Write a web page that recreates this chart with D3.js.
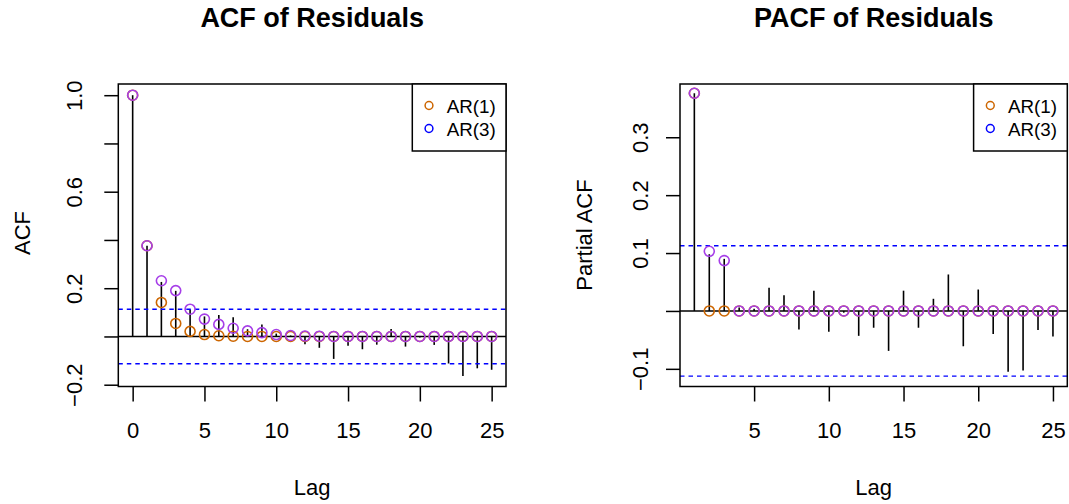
<!DOCTYPE html>
<html><head><meta charset="utf-8">
<script src="https://cdn.jsdelivr.net/npm/d3@7"></script>
<style>body{margin:0;background:#fff}svg{display:block;font-family:"Liberation Sans",Arial,Helvetica,sans-serif}</style>
</head><body><svg id="c" width="1069" height="504"></svg>
<script>
// ---- data ----
const acfLags   = [0,1,2,3,4,5,6,7,8,9,10,11,12,13,14,15,16,17,18,19,20,21,22,23,24,25];
const acfValues = [1.000,0.376,0.226,0.189,0.112,0.083,0.089,0.080,0.030,0.050,0.012,0.004,-0.032,-0.047,-0.093,-0.038,-0.053,-0.034,0.031,-0.042,-0.004,-0.035,-0.112,-0.164,-0.132,-0.138];
const ar1Acf    = [1.000,0.376,0.141,0.054,0.021,0.008,0.003,0.001,0,0,0,0,0,0,0,0,0,0,0,0,0,0,0,0,0,0];
const ar3Acf    = [1.000,0.376,0.231,0.190,0.113,0.072,0.050,0.034,0.023,0.016,0.008,0.004,0.002,0.001,0,0,0,0,0,0,0,0,0,0,0,0];
const acfCI     = 0.113;

const pacfLags   = [1,2,3,4,5,6,7,8,9,10,11,12,13,14,15,16,17,18,19,20,21,22,23,24,25];
const pacfValues = [0.376,0.098,0.090,0.006,0.004,0.040,0.027,-0.032,0.035,-0.036,-0.003,-0.043,-0.029,-0.069,0.035,-0.029,0.021,0.063,-0.061,0.037,-0.040,-0.105,-0.103,-0.033,-0.044];
const ar1Pacf    = [0.376,0,0,0,0,0,0,0,0,0,0,0,0,0,0,0,0,0,0,0,0,0,0,0,0];
const ar3Pacf    = [0.376,0.103,0.087,0,0,0,0,0,0,0,0,0,0,0,0,0,0,0,0,0,0,0,0,0,0];
const pacfCI     = 0.1125;

const acfXTicks  = [0,5,10,15,20,25];
const acfYTicks  = [-0.2,0,0.2,0.4,0.6,0.8,1.0];
const acfYLabels = {"-0.2":"\u22120.2","0.2":"0.2","0.6":"0.6","1":"1.0"};
const pacfXTicks = [5,10,15,20,25];
const pacfYTicks = [-0.1,0,0.1,0.2,0.3];
const pacfYLabels= {"-0.1":"\u22120.1","0.1":"0.1","0.2":"0.2","0.3":"0.3"};
const legendLabels = ["AR(1)","AR(3)"];

const ORANGE = "#cd6600", PURPLE = "#a63ee8", BLUE = "#0000ff";

const svg = d3.select("#c");

function panel(o){
  const x = d3.scaleLinear().domain(o.xDomain).range([o.left, o.right]);
  const y = d3.scaleLinear().domain(o.yDomain).range([o.bottom, o.top]);
  const g = svg.append("g");

  // title
  g.append("text").attr("x",(o.left+o.right)/2).attr("y",27.3)
    .attr("text-anchor","middle").attr("font-weight","bold").attr("font-size",27).text(o.title);

  // spikes
  g.selectAll("line.spike").data(o.lags.map((l,i)=>({l,v:o.values[i]}))).join("line")
    .attr("x1",d=>x(d.l)).attr("x2",d=>x(d.l)).attr("y1",y(0)).attr("y2",d=>y(d.v))
    .attr("stroke","#000").attr("stroke-width",1.6);

  // zero line
  g.append("line").attr("x1",o.left).attr("x2",o.right).attr("y1",y(0)).attr("y2",y(0))
    .attr("stroke","#000").attr("stroke-width",1.6);

  // CI lines
  [o.ci,-o.ci].forEach(c=>{
    g.append("line").attr("x1",o.left).attr("x2",o.right).attr("y1",y(c)).attr("y2",y(c))
      .attr("stroke",BLUE).attr("stroke-width",1.4).attr("stroke-dasharray","4.5,4");
  });

  // circles
  g.selectAll("circle.a1").data(o.lags.map((l,i)=>({l,v:o.ar1[i]}))).join("circle")
    .attr("cx",d=>x(d.l)).attr("cy",d=>y(d.v)).attr("r",5)
    .attr("fill","none").attr("stroke",ORANGE).attr("stroke-width",1.6);
  g.selectAll("circle.a3").data(o.lags.map((l,i)=>({l,v:o.ar3[i]}))).join("circle")
    .attr("cx",d=>x(d.l)).attr("cy",d=>y(d.v)).attr("r",5)
    .attr("fill","none").attr("stroke",PURPLE).attr("stroke-width",1.6);

  // box
  g.append("rect").attr("x",o.left).attr("y",o.top).attr("width",o.right-o.left).attr("height",o.bottom-o.top)
    .attr("fill","none").attr("stroke","#000").attr("stroke-width",1.5);

  // x axis
  const xa = g.append("g").attr("transform",`translate(0,${o.bottom})`)
    .call(d3.axisBottom(x).tickValues(o.xTicks).tickSize(15).tickFormat(d3.format("d")));
  xa.select(".domain").remove();
  xa.selectAll(".tick line").attr("stroke","#000").attr("stroke-width",1.5);
  xa.selectAll(".tick text").attr("y",51.8).attr("dy",0).attr("font-size",22)
    .attr("fill","#000").attr("font-family",null);

  // y axis
  const ya = g.append("g").attr("transform",`translate(${o.left},0)`)
    .call(d3.axisLeft(y).tickValues(o.yTicks).tickSize(14)
      .tickFormat(d=>{const k=String(+d.toFixed(2)); return o.yLabels[k]||"";}));
  ya.select(".domain").remove();
  ya.selectAll(".tick line").attr("stroke","#000").attr("stroke-width",1.5);
  ya.selectAll(".tick text").attr("x",0).attr("y",0).attr("dy",0)
    .attr("text-anchor","middle").attr("font-size",22).attr("fill","#000").attr("font-family",null)
    .attr("transform",`translate(${o.yLabelX-o.left},0) rotate(-90)`);

  // axis titles
  g.append("text").attr("x",(o.left+o.right)/2).attr("y",495).attr("text-anchor","middle")
    .attr("font-size",22).text("Lag");
  g.append("text").attr("transform",`translate(${o.ylabX},${o.ylabY}) rotate(-90)`)
    .attr("text-anchor","middle").attr("font-size",22).text(o.ylab);

  // legend
  const lw = 93.7, lh = 67;
  const lx = o.right - lw;
  g.append("rect").attr("x",lx).attr("y",o.top).attr("width",lw).attr("height",lh)
    .attr("fill","#fff").attr("stroke","#000").attr("stroke-width",1.5);
  const cols = [ORANGE, BLUE];
  legendLabels.forEach((t,i)=>{
    const cy = o.top + 21.5 + i*23;
    g.append("circle").attr("cx",lx+16.7).attr("cy",cy).attr("r",3.9)
      .attr("fill","none").attr("stroke",cols[i]).attr("stroke-width",1.5);
    g.append("text").attr("x",lx+34.4).attr("y",cy+7).attr("font-size",18.8).text(t);
  });
}

panel({
  left:118.3, right:506, top:84, bottom:386.5,
  xDomain:[-1,26], yDomain:[-0.2074,1.0464],
  lags:acfLags, values:acfValues, ar1:ar1Acf, ar3:ar3Acf, ci:acfCI,
  xTicks:acfXTicks, yTicks:acfYTicks, yLabels:acfYLabels, yLabelX:81.7,
  title:"ACF of Residuals", ylab:"ACF", ylabX:30, ylabY:233
});
panel({
  left:680, right:1067.3, top:84, bottom:386.5,
  xDomain:[0.04,25.96], yDomain:[-0.1305,0.392],
  lags:pacfLags, values:pacfValues, ar1:ar1Pacf, ar3:ar3Pacf, ci:pacfCI,
  xTicks:pacfXTicks, yTicks:pacfYTicks, yLabels:pacfYLabels, yLabelX:647.5,
  title:"PACF of Residuals", ylab:"Partial ACF", ylabX:591.7, ylabY:235
});
</script></body></html>
